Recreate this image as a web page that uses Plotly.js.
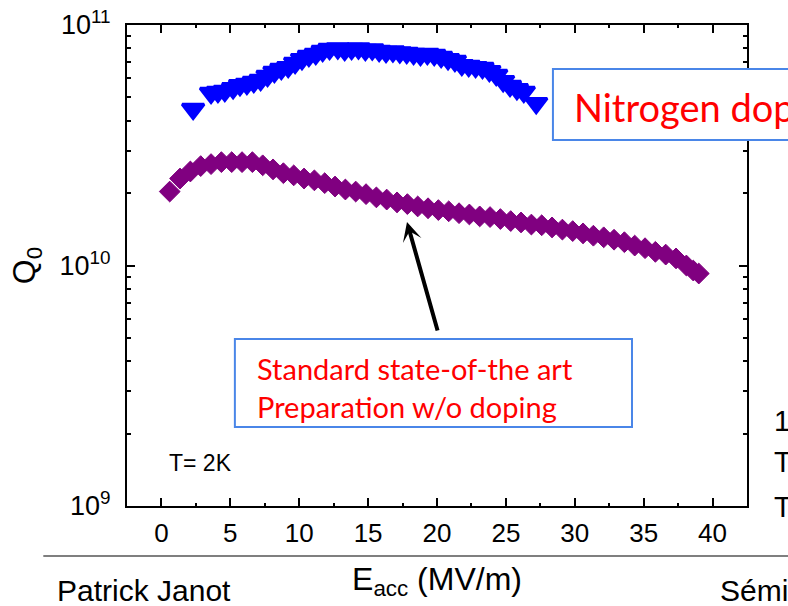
<!DOCTYPE html>
<html>
<head>
<meta charset="utf-8">
<script src="https://cdn.plot.ly/plotly-3.0.1.min.js"></script>
<style>html,body{margin:0;padding:0;background:#fff;}#chart{width:788px;height:606px;}</style>
</head>
<body>
<div id="chart"></div>
<script>
// Nitrogen-doped cavity (blue triangles)
const eNitrogen = [2.3, 3.6, 4.1, 4.6, 5.2, 5.7, 6.2, 6.7, 7.2, 7.7, 8.2, 8.7, 9.2, 9.7, 10.2, 10.7, 11.2, 11.7, 12.2, 12.8, 13.3, 13.8, 14.3, 14.8, 15.3, 15.8, 16.3, 16.8, 17.3, 17.8, 18.3, 18.8, 19.3, 19.8, 20.3, 20.8, 21.3, 21.8, 22.3, 22.8, 23.3, 23.8, 24.3, 24.8, 25.3, 25.8, 26.3, 27.2];
const qNitrogen = [4.47e10, 5.21e10, 5.26e10, 5.31e10, 5.46e10, 5.62e10, 5.68e10, 5.79e10, 5.90e10, 6.13e10, 6.37e10, 6.56e10, 6.68e10, 6.95e10, 7.21e10, 7.43e10, 7.57e10, 7.79e10, 7.94e10, 7.98e10, 7.87e10, 7.94e10, 7.98e10, 7.87e10, 7.90e10, 7.79e10, 7.72e10, 7.76e10, 7.68e10, 7.64e10, 7.57e10, 7.50e10, 7.57e10, 7.50e10, 7.36e10, 7.21e10, 7.08e10, 6.81e10, 6.75e10, 6.68e10, 6.62e10, 6.43e10, 6.19e10, 5.84e10, 5.57e10, 5.41e10, 5.26e10, 4.73e10];

// Standard preparation (purple diamonds)
const eStandard = [0.6, 1.35, 2.1, 2.85, 3.6, 4.35, 5.1, 5.85, 6.6, 7.35, 8.1, 8.85, 9.6, 10.35, 11.1, 11.85, 12.6, 13.35, 14.1, 14.85, 15.6, 16.35, 17.1, 17.85, 18.6, 19.35, 20.1, 20.85, 21.6, 22.35, 23.1, 23.85, 24.6, 25.35, 26.1, 26.85, 27.6, 28.35, 29.1, 29.85, 30.6, 31.35, 32.1, 32.85, 33.6, 34.35, 35.1, 35.85, 36.6, 37.35, 38.1, 38.6, 39.0];
const qStandard = [2.03e10, 2.30e10, 2.46e10, 2.59e10, 2.64e10, 2.69e10, 2.69e10, 2.69e10, 2.69e10, 2.61e10, 2.51e10, 2.42e10, 2.37e10, 2.30e10, 2.26e10, 2.20e10, 2.13e10, 2.07e10, 2.03e10, 1.98e10, 1.92e10, 1.88e10, 1.83e10, 1.80e10, 1.76e10, 1.73e10, 1.70e10, 1.68e10, 1.65e10, 1.63e10, 1.60e10, 1.59e10, 1.56e10, 1.53e10, 1.51e10, 1.48e10, 1.47e10, 1.44e10, 1.41e10, 1.39e10, 1.36e10, 1.33e10, 1.31e10, 1.28e10, 1.25e10, 1.21e10, 1.18e10, 1.14e10, 1.11e10, 1.07e10, 1.00e10, 0.953e10, 0.926e10];

// Axis ticks
const xTickVals = [0, 5, 10, 15, 20, 25, 30, 35, 40];
const yTickVals = [1e9, 1e10, 1e11];
const yTickText = ['10<sup>9</sup>', '10<sup>10</sup>', '10<sup>11</sup>'];
const yMinorVals = [];
[1e9, 1e10].forEach(function (d) { for (let k = 2; k <= 9; k++) yMinorVals.push(k * d); });

const ARIAL = 'Liberation Sans, Arial, sans-serif';
const CAL = 'Lato, Noto Sans, sans-serif';

const traces = [
  {
    x: eNitrogen, y: qNitrogen, type: 'scatter', mode: 'markers',
    marker: {symbol: 'triangle-down', size: 19, color: '#0000ff', line: {color: '#0000ff', width: 3}},
    hoverinfo: 'skip', showlegend: false
  },
  {
    x: eStandard, y: qStandard, type: 'scatter', mode: 'markers',
    marker: {symbol: 'diamond', size: 16, color: '#800080', line: {color: '#800080', width: 1}},
    hoverinfo: 'skip', showlegend: false
  }
];

const layout = {
  width: 788, height: 606,
  margin: {l: 127, r: 41, t: 25, b: 100},
  paper_bgcolor: '#ffffff', plot_bgcolor: '#ffffff',
  showlegend: false,
  font: {family: ARIAL, color: '#000000'},
  xaxis: {
    range: [-2.5, 42.5], tickmode: 'array', tickvals: xTickVals,
    ticks: 'inside', ticklen: 8, tickwidth: 2, tickcolor: '#000',
    minor: {ticks: 'inside', dtick: 2.5, tick0: 0, ticklen: 3, tickwidth: 2, tickcolor: '#000', showgrid: false},
    showline: true, linewidth: 2, linecolor: '#000', mirror: 'ticks',
    showgrid: false, zeroline: false,
    tickfont: {family: ARIAL, size: 26, color: '#000'},
    ticklabelstandoff: 3,
    title: {text: 'E<sub>acc</sub> (MV/m)', font: {family: ARIAL, size: 32, color: '#000'}, standoff: 20},
    automargin: false
  },
  yaxis: {
    type: 'log', range: [9, 11], tickmode: 'array', tickvals: yTickVals, ticktext: yTickText,
    ticks: 'inside', ticklen: 8, tickwidth: 2, tickcolor: '#000',
    minor: {ticks: 'inside', tickmode: 'array', tickvals: yMinorVals, ticklen: 4, tickwidth: 2, tickcolor: '#000', showgrid: false},
    showline: true, linewidth: 2, linecolor: '#000', mirror: 'ticks',
    showgrid: false, zeroline: false,
    tickfont: {family: ARIAL, size: 27, color: '#000'},
    ticklabelstandoff: 9,
    title: {text: 'Q<sub>0</sub>', font: {family: ARIAL, size: 32, color: '#000'}, standoff: 14},
    automargin: false
  },
  shapes: [
    {type: 'line', xref: 'paper', yref: 'paper', x0: -0.135, x1: 1.1, y0: -0.104, y1: -0.104, line: {color: '#7f7f7f', width: 2}},
    {type: 'rect', xref: 'paper', yref: 'paper', x0: 0.687, x1: 1.1, y0: 0.761, y1: 0.9085, line: {color: '#4a86e8', width: 2}, fillcolor: '#ffffff', layer: 'above'},
    {type: 'rect', xref: 'paper', yref: 'paper', x0: 0.174, x1: 0.8145, y0: 0.164, y1: 0.347, line: {color: '#4a86e8', width: 2}, fillcolor: 'rgba(0,0,0,0)'}
  ],
  annotations: [
    {xref: 'paper', yref: 'paper', x: 0.717, y: 0.8295, xanchor: 'left', yanchor: 'middle', showarrow: false,
     text: 'Nitrogen doping', font: {family: CAL, size: 38, color: '#ff0000'}},
    {xref: 'paper', yref: 'paper', x: 0.2065, y: 0.247, xanchor: 'left', yanchor: 'middle', align: 'left', showarrow: false,
     text: 'Standard state-of-the art<br>Preparation w/o doping', font: {family: CAL, size: 29, color: '#ff0000'}},
    {xref: 'paper', yref: 'paper', x: 0.4516, y: 0.5904, ax: 31, ay: 110, axref: 'pixel', ayref: 'pixel',
     text: '', showarrow: true, arrowhead: 3, arrowsize: 0.8, arrowwidth: 4, arrowcolor: '#000', standoff: 0},
    {xref: 'paper', yref: 'paper', x: 0.0645, y: 0.0894, xanchor: 'left', yanchor: 'middle', showarrow: false,
     text: 'T= 2K', font: {family: ARIAL, size: 23, color: '#000'}},
    {xref: 'paper', yref: 'paper', x: (772 - 127) / 620, y: (506 - 421) / 481, xanchor: 'left', yanchor: 'middle', showarrow: false,
     text: '1', font: {family: ARIAL, size: 29, color: '#000'}},
    {xref: 'paper', yref: 'paper', x: (772 - 127) / 620, y: (506 - 462) / 481, xanchor: 'left', yanchor: 'middle', showarrow: false,
     text: 'T', font: {family: ARIAL, size: 29, color: '#000'}},
    {xref: 'paper', yref: 'paper', x: (772 - 127) / 620, y: (506 - 507) / 481, xanchor: 'left', yanchor: 'middle', showarrow: false,
     text: 'T', font: {family: ARIAL, size: 29, color: '#000'}},
    {xref: 'paper', yref: 'paper', x: (55 - 127) / 620, y: (506 - 590) / 481, xanchor: 'left', yanchor: 'middle', showarrow: false,
     text: 'Patrick Janot', font: {family: ARIAL, size: 30, color: '#000'}},
    {xref: 'paper', yref: 'paper', x: (718 - 127) / 620, y: (506 - 590) / 481, xanchor: 'left', yanchor: 'middle', showarrow: false,
     text: 'Séminaire', font: {family: ARIAL, size: 30, color: '#000'}}
  ]
};

Plotly.newPlot('chart', traces, layout, {displayModeBar: false, staticPlot: true});
</script>
</body>
</html>
